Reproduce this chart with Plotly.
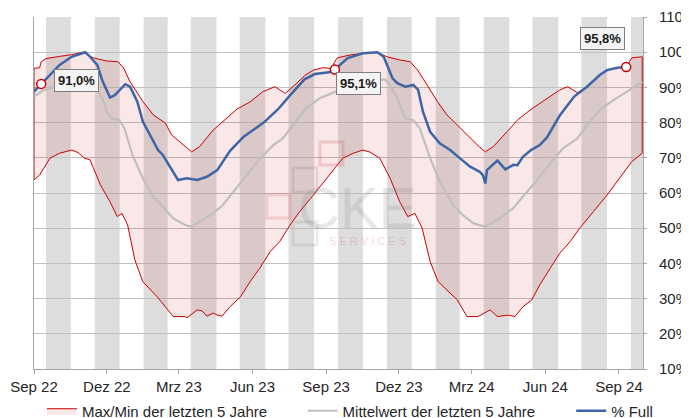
import plotly.graph_objects as go

# ---------------- data ----------------
max_dates = ["2022-09-01", "2022-09-08", "2022-09-10", "2022-09-16", "2022-10-03", "2022-10-18",
             "2022-11-01", "2022-11-14", "2022-12-01", "2022-12-15", "2022-12-22", "2022-12-30",
             "2023-01-08", "2023-01-15", "2023-01-28", "2023-02-12", "2023-02-20", "2023-03-02",
             "2023-03-10", "2023-03-17", "2023-03-27", "2023-04-13", "2023-04-25", "2023-05-13",
             "2023-05-29", "2023-06-14", "2023-06-29", "2023-07-12", "2023-07-24", "2023-08-06",
             "2023-08-16", "2023-08-28", "2023-09-08", "2023-09-11", "2023-09-15", "2023-10-01",
             "2023-10-17", "2023-11-04", "2023-11-16", "2023-12-02", "2023-12-15", "2023-12-24",
             "2023-12-31", "2024-01-18", "2024-01-30", "2024-02-12", "2024-02-28", "2024-03-11",
             "2024-03-18", "2024-03-28", "2024-04-14", "2024-04-27", "2024-05-13", "2024-06-03",
             "2024-06-19", "2024-06-29", "2024-07-11", "2024-07-23", "2024-08-08", "2024-08-17",
             "2024-08-30", "2024-09-10", "2024-09-17", "2024-09-30"]
max_vals = [95.4, 95.6, 97.3, 98.2, 98.8, 99.3,
            100.0, 98.4, 97.5, 97.3, 95.5, 91.6,
            88.5, 86.0, 82.2, 79.9, 76.5, 74.6,
            73.0, 71.7, 73.2, 77.9, 80.3, 83.9,
            85.9, 88.8, 90.2, 88.3, 90.7, 93.5,
            94.9, 95.6, 95.4, 97.0, 98.4, 99.2,
            99.7, 100.0, 98.7, 97.8, 97.3, 95.0,
            92.6, 86.0, 82.2, 79.3, 75.5, 73.0,
            71.7, 73.2, 77.4, 80.7, 83.6, 86.9,
            89.3, 90.2, 88.5, 90.2, 93.5, 94.9,
            95.6, 95.8, 98.4, 98.7]

min_dates = ["2022-09-01", "2022-09-08", "2022-09-21", "2022-10-03", "2022-10-18", "2022-10-26",
             "2022-11-03", "2022-11-10", "2022-11-23", "2022-12-05", "2022-12-14", "2022-12-20",
             "2022-12-27", "2023-01-05", "2023-01-15", "2023-02-02", "2023-02-14", "2023-02-22",
             "2023-03-09", "2023-03-11", "2023-03-24", "2023-03-30", "2023-04-05", "2023-04-13",
             "2023-04-18", "2023-04-24", "2023-05-04", "2023-05-17", "2023-05-29", "2023-06-10",
             "2023-06-23", "2023-07-05", "2023-07-18", "2023-07-30", "2023-08-16", "2023-09-02",
             "2023-09-12", "2023-09-22", "2023-10-05", "2023-10-17", "2023-10-26", "2023-11-07",
             "2023-11-20", "2023-12-02", "2023-12-12", "2023-12-21", "2023-12-30", "2024-01-09",
             "2024-01-19", "2024-02-12", "2024-02-24", "2024-03-09", "2024-03-24", "2024-04-02",
             "2024-04-15", "2024-04-24", "2024-05-04", "2024-05-15", "2024-05-25", "2024-06-07",
             "2024-06-19", "2024-07-02", "2024-07-14", "2024-07-31", "2024-08-17", "2024-09-02",
             "2024-09-17", "2024-09-30"]
min_vals = [63.7, 65.1, 69.9, 71.3, 72.2, 71.5,
            69.9, 69.4, 62.3, 57.5, 53.3, 54.2,
            50.9, 41.0, 34.8, 30.5, 27.2, 24.9,
            24.9, 24.5, 26.8, 26.5, 25.0, 25.9,
            25.3, 25.0, 27.7, 30.5, 34.8, 38.6,
            43.3, 46.2, 50.9, 54.7, 59.4, 64.2,
            67.0, 69.9, 71.3, 72.2, 71.6, 69.9,
            64.2, 57.5, 53.3, 54.2, 50.0, 40.5,
            34.8, 29.6, 24.9, 24.9, 26.8, 24.9,
            25.3, 24.9, 27.7, 29.6, 33.9, 38.6,
            42.9, 46.2, 50.0, 54.7, 59.4, 64.2,
            68.9, 71.3]

mean_dates = ["2022-09-01", "2022-09-14", "2022-10-03", "2022-10-22", "2022-11-10", "2022-11-18",
              "2022-11-26", "2022-12-01", "2022-12-07", "2022-12-17", "2022-12-23", "2023-01-02",
              "2023-01-15", "2023-01-28", "2023-02-09", "2023-02-22", "2023-03-09", "2023-03-17",
              "2023-03-27", "2023-04-13", "2023-04-25", "2023-05-08", "2023-05-25", "2023-06-11",
              "2023-06-27", "2023-07-09", "2023-07-22", "2023-08-07", "2023-08-24", "2023-09-12",
              "2023-10-01", "2023-10-20", "2023-11-04", "2023-11-14", "2023-11-20", "2023-11-29",
              "2023-12-09", "2023-12-19", "2023-12-27", "2024-01-09", "2024-01-21", "2024-02-07",
              "2024-02-19", "2024-03-03", "2024-03-18", "2024-04-05", "2024-04-22", "2024-05-04",
              "2024-05-22", "2024-06-07", "2024-06-23", "2024-07-11", "2024-07-23", "2024-08-08",
              "2024-08-25", "2024-09-11", "2024-09-30"]
mean_vals = [87.4, 89.3, 90.5, 91.2, 91.0, 90.0,
             86.5, 83.1, 81.2, 80.7, 78.4, 70.8,
             64.2, 59.0, 56.1, 52.8, 50.9, 50.4,
             51.9, 54.2, 56.6, 60.4, 65.1, 69.9,
             73.6, 75.5, 79.3, 84.1, 86.9, 88.8,
             90.5, 91.8, 92.3, 92.2, 90.5, 86.9,
             81.2, 80.7, 78.4, 69.9, 63.2, 56.6,
             53.7, 51.4, 50.4, 52.8, 55.7, 59.0,
             63.7, 68.4, 72.7, 75.5, 79.3, 83.6,
             86.4, 88.8, 91.6]

full_dates = ["2022-09-01", "2022-09-10", "2022-09-21", "2022-10-03", "2022-10-18", "2022-10-31",
              "2022-11-04", "2022-11-08", "2022-11-19", "2022-11-26", "2022-12-05", "2022-12-11",
              "2022-12-24", "2022-12-30", "2023-01-08", "2023-01-15", "2023-01-26", "2023-02-03",
              "2023-02-09", "2023-02-18", "2023-02-28", "2023-03-11", "2023-03-24", "2023-04-05",
              "2023-04-18", "2023-05-04", "2023-05-21", "2023-06-15", "2023-07-03", "2023-07-19",
              "2023-08-05", "2023-08-18", "2023-09-05", "2023-09-12", "2023-09-28", "2023-10-17",
              "2023-11-04", "2023-11-12", "2023-11-23", "2023-11-29", "2023-12-09", "2023-12-19",
              "2023-12-25", "2023-12-31", "2024-01-09", "2024-01-21", "2024-02-03", "2024-02-15",
              "2024-02-28", "2024-03-11", "2024-03-15", "2024-03-18", "2024-03-20", "2024-04-02",
              "2024-04-12", "2024-04-22", "2024-04-27", "2024-05-04", "2024-05-14", "2024-05-25",
              "2024-06-03", "2024-06-19", "2024-07-07", "2024-07-23", "2024-08-08", "2024-08-17",
              "2024-08-30", "2024-09-10"]
full_vals = [88.8, 91.0, 93.5, 96.4, 98.7, 99.7,
             100.0, 99.2, 96.4, 91.6, 87.1, 87.8,
             90.9, 90.2, 86.0, 80.3, 75.5, 72.2,
             70.8, 67.5, 63.7, 64.2, 63.7, 64.6,
             66.5, 72.0, 76.0, 80.0, 83.8, 88.0,
             92.3, 93.8, 94.3, 95.1, 98.3, 99.7,
             100.0, 98.7, 92.6, 91.2, 90.2, 90.7,
             89.3, 83.1, 77.4, 74.1, 72.2, 69.9,
             67.5, 66.0, 65.1, 62.7, 66.5, 69.2,
             66.7, 68.0, 67.9, 70.3, 72.2, 73.6,
             75.8, 82.0, 87.4, 90.2, 93.5, 94.9,
             95.6, 95.8]

label_dates = ["2022-09-10", "2023-09-12", "2024-09-10"]
label_vals = [91.0, 95.1, 95.8]
label_texts = ["91,0%", "95,1%", "95,8%"]

tick_dates = ["2022-09-01", "2022-12-01", "2023-03-01", "2023-06-01", "2023-09-01",
              "2023-12-01", "2024-03-01", "2024-06-01", "2024-09-01"]
tick_labels = ["Sep 22", "Dez 22", "Mrz 23", "Jun 23", "Sep 23",
               "Dez 23", "Mrz 24", "Jun 24", "Sep 24"]

band_starts = ["2022-09-16", "2022-11-16", "2023-01-16", "2023-03-16", "2023-05-16", "2023-07-16",
               "2023-09-16", "2023-11-16", "2024-01-16", "2024-03-16", "2024-05-16", "2024-07-16",
               "2024-09-16"]
band_ends = ["2022-10-17", "2022-12-17", "2023-02-15", "2023-04-17", "2023-06-17", "2023-08-17",
             "2023-10-17", "2023-12-17", "2024-02-15", "2024-04-17", "2024-06-17", "2024-08-17",
             "2024-10-01"]

# ---------------- figure ----------------
FONT = "Liberation Sans, Arial, sans-serif"
RED = "#CC0000"

fig = go.Figure()

band_x = max_dates + min_dates[::-1] + [max_dates[0]]
band_y = max_vals + min_vals[::-1] + [max_vals[0]]
fig.add_trace(go.Scatter(
    x=band_x, y=band_y, mode="lines", fill="toself",
    fillcolor="rgba(204,0,0,0.09)", line=dict(color=RED, width=1),
    name="Max/Min der letzten 5 Jahre", legendwidth=207, hoverinfo="skip"))

fig.add_trace(go.Scatter(
    x=mean_dates, y=mean_vals, mode="lines",
    line=dict(color="#BFBFBF", width=2.2),
    name="Mittelwert der letzten 5 Jahre", legendwidth=215))

fig.add_trace(go.Scatter(
    x=full_dates, y=full_vals, mode="lines",
    line=dict(color="#3E66A6", width=2.5),
    name="% Full"))

fig.add_trace(go.Scatter(
    x=label_dates, y=label_vals, mode="markers",
    marker=dict(symbol="circle", size=9, color="white", line=dict(color=RED, width=1.5)),
    showlegend=False, hoverinfo="skip"))

shapes = []
for s, e in zip(band_starts, band_ends):
    shapes.append(dict(type="rect", xref="x", yref="y domain", x0=s, x1=e, y0=0, y1=1,
                       fillcolor="#DDDDDD", line=dict(width=0), layer="below"))

# faint watermark logo (positions in plot-area fractions)
def px(x):
    return (x - 34) / 609.0

def py(y):
    return (369 - y) / 352.0

for (x0, y0, x1, y1, col) in [(320, 142, 343, 165, "rgba(210,90,90,0.25)"),
                              (293, 168, 317, 192, "rgba(130,130,130,0.20)"),
                              (267, 195, 290, 218, "rgba(210,90,90,0.20)"),
                              (293, 222, 317, 245, "rgba(130,130,130,0.16)")]:
    shapes.append(dict(type="rect", xref="paper", yref="paper",
                       x0=px(x0), x1=px(x1), y0=py(y1), y1=py(y0),
                       line=dict(color=col, width=3), fillcolor="rgba(0,0,0,0)", layer="above"))

annotations = []
shifts = [(35, 3), (24, -14), (-24, 28)]
for d, v, t, (dx, dy) in zip(label_dates, label_vals, label_texts, shifts):
    annotations.append(dict(x=d, y=v, xref="x", yref="y", text="<b>" + t + "</b>",
                            showarrow=False, xshift=dx, yshift=dy,
                            font=dict(family=FONT, size=13, color="#1A1A1A"),
                            bgcolor="#F4F4F4", bordercolor="#7F7F7F", borderwidth=1, borderpad=3))

annotations.append(dict(x=px(357), y=py(207), xref="paper", yref="paper", text="CKE",
                        showarrow=False, font=dict(family=FONT, size=58, color="rgba(130,130,130,0.18)")))
annotations.append(dict(x=px(367), y=py(241), xref="paper", yref="paper", text="S E R V I C E S",
                        showarrow=False, font=dict(family=FONT, size=11, color="rgba(200,60,60,0.22)")))

# the page body adds an 8px offset, so the figure is 8px smaller and margins shifted
fig.update_layout(
    width=681, height=410,
    margin=dict(l=26, r=46, t=9, b=49, autoexpand=False),
    paper_bgcolor="white", plot_bgcolor="white",
    font=dict(family=FONT, size=15, color="#262626"),
    shapes=shapes, annotations=annotations,
    showlegend=True,
    legend=dict(orientation="h", x=-0.001, xanchor="left", y=-0.1193, yanchor="middle",
                indentation=8.6,
                font=dict(family=FONT, size=15, color="#262626"),
                bgcolor="rgba(0,0,0,0)", borderwidth=0, itemclick=False),
    xaxis=dict(type="date", range=["2022-09-01", "2024-10-01"],
               tickvals=tick_dates, ticktext=tick_labels,
               showgrid=False, showline=True, linecolor="#A6A6A6", linewidth=1,
               ticks="outside", ticklen=4, tickcolor="#A6A6A6",
               tickfont=dict(family=FONT, size=15, color="#262626"), zeroline=False),
    yaxis=dict(side="right", range=[10, 110], dtick=10, ticksuffix="%",
               showgrid=True, gridcolor="#C0C0C0", gridwidth=1,
               showline=True, linecolor="#A6A6A6", linewidth=1, mirror=True,
               ticks="outside", ticklen=3, tickcolor="#A6A6A6", ticklabelstandoff=9,
               tickfont=dict(family=FONT, size=15, color="#262626"), zeroline=False),
)

fig.write_html("out.html")
